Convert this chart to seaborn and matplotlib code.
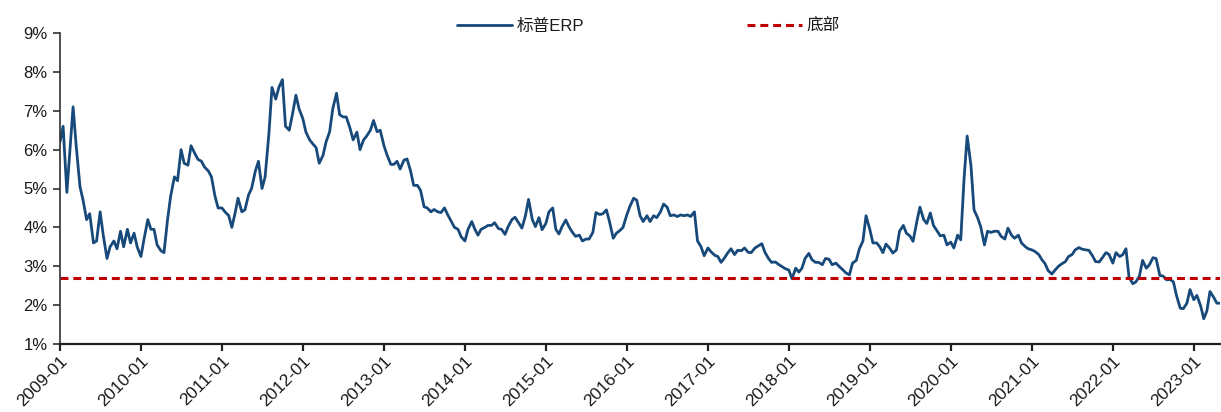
import numpy as np
import pandas as pd
import matplotlib
matplotlib.use("Agg")
import matplotlib.pyplot as plt
import matplotlib.dates as mdates
from matplotlib.ticker import FuncFormatter
import seaborn as sns

# ---- data (semi-monthly readings, %) ----
erp_2009 = [6.2, 6.6, 4.9, 6.0, 7.1, 6.1, 5.05, 4.7, 4.2, 4.35, 3.6, 3.65,
            4.4, 3.8, 3.2, 3.5, 3.65, 3.45, 3.9, 3.5, 3.95, 3.6, 3.85, 3.5]
erp_2010 = [3.25, 3.7, 4.2, 3.95, 3.95, 3.55, 3.4, 3.35, 4.2, 4.8, 5.3, 5.2,
            6.0, 5.65, 5.6, 6.1, 5.9, 5.75, 5.7, 5.55, 5.45, 5.3, 4.8, 4.5]
erp_2011 = [4.5, 4.4, 4.3, 4.0, 4.35, 4.75, 4.4, 4.45, 4.83, 5.0, 5.45, 5.7,
            5.0, 5.3, 6.4, 7.6, 7.3, 7.6, 7.8, 6.6, 6.5, 6.9, 7.4, 7.05]
erp_2012 = [6.8, 6.45, 6.25, 6.15, 6.05, 5.65, 5.85, 6.2, 6.46, 7.05, 7.45, 6.9,
            6.84, 6.84, 6.55, 6.25, 6.45, 6.0, 6.25, 6.35, 6.5, 6.75, 6.46, 6.5]
erp_2013 = [6.1, 5.86, 5.62, 5.62, 5.7, 5.5, 5.73, 5.76, 5.45, 5.08, 5.08, 4.95,
            4.53, 4.5, 4.4, 4.46, 4.4, 4.38, 4.5, 4.33, 4.15, 4.0, 3.95, 3.76]
erp_2014 = [3.65, 3.95, 4.15, 3.95, 3.8, 3.95, 4.0, 4.05, 4.05, 4.12, 3.97, 3.95,
            3.82, 4.02, 4.2, 4.26, 4.11, 3.98, 4.3, 4.72, 4.2, 4.02, 4.25, 3.94]
erp_2015 = [4.1, 4.4, 4.5, 3.95, 3.83, 4.02, 4.19, 4.02, 3.87, 3.77, 3.8, 3.65,
            3.7, 3.7, 3.87, 4.38, 4.33, 4.35, 4.45, 4.15, 3.72, 3.85, 3.92, 4.0]
erp_2016 = [4.32, 4.54, 4.75, 4.7, 4.3, 4.15, 4.3, 4.15, 4.3, 4.25, 4.4, 4.6,
            4.52, 4.3, 4.32, 4.28, 4.32, 4.3, 4.32, 4.28, 4.4, 3.65, 3.5, 3.27]
erp_2017 = [3.47, 3.37, 3.28, 3.25, 3.1, 3.2, 3.35, 3.45, 3.3, 3.41, 3.4, 3.47,
            3.36, 3.35, 3.47, 3.52, 3.58, 3.36, 3.2, 3.1, 3.11, 3.05, 2.99, 2.94]
erp_2018 = [2.9, 2.68, 2.95, 2.85, 2.95, 3.2, 3.33, 3.17, 3.1, 3.1, 3.04, 3.2,
            3.18, 3.04, 3.08, 3.0, 2.91, 2.83, 2.78, 3.08, 3.15, 3.45, 3.65, 4.3]
erp_2019 = [3.95, 3.6, 3.6, 3.5, 3.35, 3.57, 3.46, 3.34, 3.42, 3.9, 4.05, 3.85,
            3.78, 3.64, 4.15, 4.52, 4.2, 4.1, 4.37, 4.05, 3.9, 3.78, 3.8, 3.55]
erp_2020 = [3.62, 3.47, 3.8, 3.68, 5.25, 6.35, 5.6, 4.45, 4.25, 4.02, 3.55, 3.9,
            3.87, 3.9, 3.9, 3.77, 3.7, 3.98, 3.8, 3.72, 3.8, 3.6, 3.51, 3.45]
erp_2021 = [3.42, 3.38, 3.3, 3.17, 3.07, 2.89, 2.8, 2.9, 3.0, 3.06, 3.12, 3.25,
            3.3, 3.42, 3.48, 3.44, 3.42, 3.41, 3.27, 3.12, 3.11, 3.22, 3.35, 3.3]
erp_2022 = [3.08, 3.35, 3.25, 3.3, 3.45, 2.72, 2.55, 2.6, 2.75, 3.15, 2.95, 3.04,
            3.22, 3.2, 2.76, 2.75, 2.65, 2.66, 2.6, 2.25, 1.92, 1.91, 2.05, 2.4]
erp_2023 = [2.14, 2.25, 1.98, 1.65, 1.85, 2.35, 2.2, 2.05, 2.05]

years = list(range(2009, 2024))
erp_by_year = [erp_2009, erp_2010, erp_2011, erp_2012, erp_2013, erp_2014,
               erp_2015, erp_2016, erp_2017, erp_2018, erp_2019, erp_2020,
               erp_2021, erp_2022, erp_2023]
bottom_level = 2.7
series_label = "标普ERP"
bottom_label = "底部"
y_ticks = [1, 2, 3, 4, 5, 6, 7, 8, 9]

frames = []
for yr, vals in zip(years, erp_by_year):
    d = pd.date_range(f"{yr}-01-01", periods=len(vals), freq="SMS")
    frames.append(pd.DataFrame({"date": d, "erp": vals}))
df = pd.concat(frames, ignore_index=True)

# ---- style ----
sns.set_theme(style="white")
plt.rcParams["font.family"] = ["Liberation Sans", "Noto Sans CJK SC", "DejaVu Sans"]

fig = plt.figure(figsize=(12.21, 4.12), dpi=100)
ax = fig.add_axes([60 / 1221, 1 - 344 / 412, 1 - 60 / 1221 - 0.0005, (344 - 33) / 412])

sns.lineplot(data=df, x="date", y="erp", ax=ax, color="#17497A", linewidth=2.0,
             label=series_label)
ax.axhline(bottom_level, color="#C00000", linewidth=2.2, linestyle=(0, (2.6, 1.6)),
           label=bottom_label)

ax.set_ylim(1, 9)
ax.set_yticks(y_ticks)
ax.yaxis.set_major_formatter(FuncFormatter(lambda v, p: f"{int(v)}%"))
ax.set_xlim(pd.Timestamp("2009-01-01"), df["date"].iloc[-1])
ax.xaxis.set_major_locator(mdates.YearLocator())
ax.xaxis.set_major_formatter(mdates.DateFormatter("%Y-%m"))
ax.set_xlabel("")
ax.set_ylabel("")

for s in ["top", "right"]:
    ax.spines[s].set_visible(False)
ax.spines["left"].set_color("#303030")
ax.spines["left"].set_linewidth(1.2)
ax.spines["bottom"].set_color("#202020")
ax.spines["bottom"].set_linewidth(1.6)

ax.tick_params(axis="y", which="major", left=True, length=5, width=1.2,
               color="#303030", labelsize=12, labelcolor="#1a1a1a", pad=4)
ax.tick_params(axis="x", which="major", bottom=True, length=5, width=1.6,
               color="#202020", labelsize=12.5, labelcolor="#1a1a1a", pad=2)
for lbl in ax.get_xticklabels():
    lbl.set_rotation(45)
    lbl.set_ha("right")
    lbl.set_va("top")
    lbl.set_rotation_mode("anchor")

leg = ax.legend(loc="center", bbox_to_anchor=(0.507, 1.022), ncol=2, frameon=False,
                fontsize=12, handlelength=3.3, handletextpad=0.25,
                columnspacing=9.8, borderaxespad=0)
for t in leg.get_texts():
    t.set_color("#1a1a1a")

fig.savefig("out.png", dpi=100)
